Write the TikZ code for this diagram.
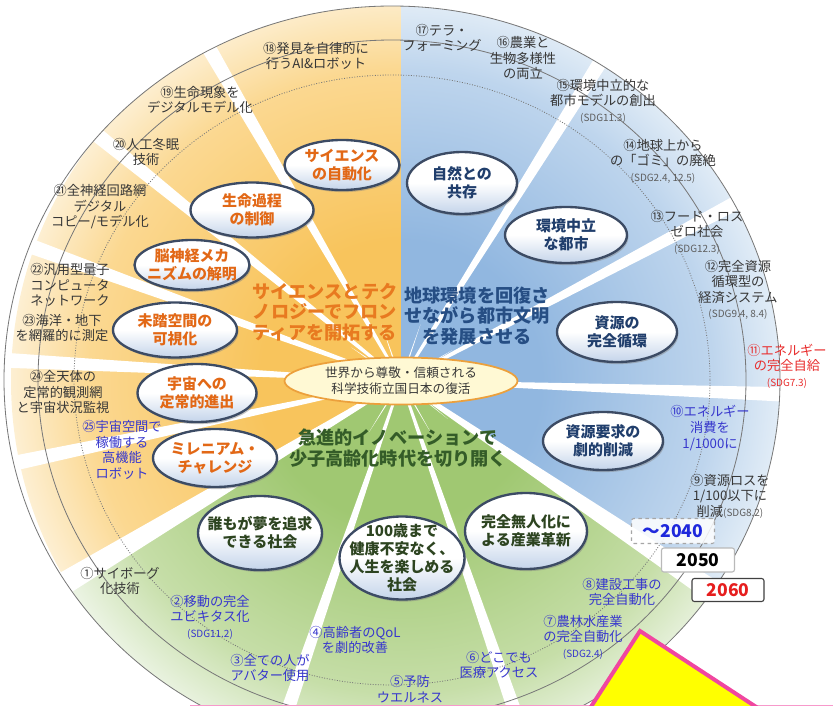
\documentclass[tikz,border=0pt]{standalone}
\usepackage{fontspec}
\setmainfont{Noto Sans CJK JP}
\usetikzlibrary{shapes.geometric,shadows}

\definecolor{o1}{RGB}{248,196,92}
\definecolor{o2}{RGB}{251,216,145}
\definecolor{o3}{RGB}{253,239,210}
\definecolor{b1}{RGB}{145,183,224}
\definecolor{b2}{RGB}{190,213,237}
\definecolor{b3}{RGB}{231,240,248}
\definecolor{g1}{RGB}{160,200,114}
\definecolor{g2}{RGB}{198,222,168}
\definecolor{g3}{RGB}{236,244,228}
\pgfdeclareradialshading{orsh}{\pgfpoint{0bp}{0bp}}{color(0bp)=(o1); color(9bp)=(o1); color(20bp)=(o2); color(25bp)=(o3); color(50bp)=(o3)}
\pgfdeclareradialshading{blsh}{\pgfpoint{0bp}{0bp}}{color(0bp)=(b1); color(9bp)=(b1); color(20bp)=(b2); color(25bp)=(b3); color(50bp)=(b3)}
\pgfdeclareradialshading{grsh}{\pgfpoint{0bp}{0bp}}{color(0bp)=(g1); color(9bp)=(g1); color(20bp)=(g2); color(25bp)=(g3); color(50bp)=(g3)}

\definecolor{ringc}{RGB}{120,120,120}
\definecolor{labc}{RGB}{55,55,55}
\definecolor{sdgc}{RGB}{95,95,95}
\definecolor{labblue}{RGB}{55,55,205}
\definecolor{labred}{RGB}{232,45,45}
\definecolor{ortxt}{RGB}{226,104,22}
\definecolor{bltxt}{RGB}{32,62,108}
\definecolor{grtxt}{RGB}{45,68,32}
\definecolor{orhead}{RGB}{232,122,32}
\definecolor{blhead}{RGB}{38,78,132}
\definecolor{grhead}{RGB}{52,92,40}
\definecolor{bubedge}{RGB}{60,75,100}
\definecolor{bubfill}{RGB}{196,212,234}
\definecolor{ctrfill}{RGB}{255,249,212}
\definecolor{ctredge}{RGB}{236,160,60}
\definecolor{pinkc}{RGB}{240,70,160}
\definecolor{yel}{RGB}{255,255,0}
\definecolor{yrblue}{RGB}{30,40,220}
\definecolor{yrred}{RGB}{230,30,30}

\newcommand\sdgf{\fontsize{8.5}{10}\selectfont}

\tikzset{
  bsz/.style 2 args={minimum width=#1*0.03cm, minimum height=#2*0.03cm},
  bub/.style={ellipse, draw=bubedge, line width=2pt, top color=white, bottom color=bubfill, middle color=white,
    drop shadow={shadow xshift=1.2pt, shadow yshift=-1.8pt, opacity=0.45},
    inner sep=-14pt, align=center, font=\bfseries\fontsize{12.8}{15.5}\selectfont},
  bubO/.style={bub, text=ortxt},
  bubB/.style={bub, text=bltxt},
  bubG/.style={bub, text=grtxt},
  lab/.style={align=center, text=labc, inner sep=0pt, font=\fontsize{11.3}{13.3}\selectfont},
  head/.style={align=center, inner sep=0pt, font=\bfseries\fontsize{15.5}{17.5}\selectfont},
  yb/.style={rectangle, rounded corners=2pt, fill=white, line width=0.9pt, inner sep=0pt, font=\bfseries\fontsize{15}{16}\selectfont},
  ring/.style={draw=ringc, line width=0.7pt},
  spoke/.style={fill=white}
}

\begin{document}
\begin{tikzpicture}[x=0.03cm, y=-0.03cm]
\useasboundingbox (0,0) rectangle (833,706);
\clip (0,0) rectangle (833,706);

% ---- sectors ----
\begin{scope}
  \clip (392,380) ellipse [x radius=388, y radius=374];
  \begin{scope}[shift={(401,381)}]
    \begin{scope}
      \clip (0,0) -- (-90:800) -- (-150:800) -- (-211:800) -- cycle;
      \shade[shading=orsh] (0,0) circle (390);
    \end{scope}
    \begin{scope}
      \clip (0,0) -- (-90:800) -- (-28:800) -- (34:800) -- cycle;
      \shade[shading=blsh] (0,0) circle (390);
    \end{scope}
    \begin{scope}
      \clip (0,0) -- (-211:800) -- (-268.5:800) -- (-326:800) -- cycle;
      \shade[shading=grsh] (0,0) circle (390);
    \end{scope}
    \foreach \a in {120,141,160,177,192,251,289,358,28,58}{
      \fill[spoke, rotate=\a] (-60,0) -- (460,8.5) -- (460,-8.5) -- cycle;
    }
    \foreach \a in {211,326}{
      \fill[spoke, rotate=\a] (-60,0) -- (460,13) -- (460,-13) -- cycle;
    }
  \end{scope}
\end{scope}

% ---- rings ----
\draw[ring] (392,380) ellipse [x radius=388, y radius=374];
\draw[ring] (392,380) ellipse [x radius=354, y radius=340];
\draw[ring, dash pattern=on 0.8pt off 1.4pt] (392,380) ellipse [x radius=318, y radius=305];

% ---- headers ----
\node[head, text=orhead] (hO) at (325,312) {サイエンスとテク\\ノロジーでフロン\\ティアを開拓する};
\node[head, text=blhead] (hB) at (477,316) {地球環境を回復さ\\せながら都市文明\\を発展させる};
\node[head, text=grhead] (hG) at (398,448) {急進的イノベーションで\\少子高齢化時代を切り開く};

% ---- center ----
\node[ellipse, draw=ctredge, line width=1.5pt, fill=ctrfill, bsz={233}{47}, inner sep=-10pt, align=center,
      text=labc, font=\fontsize{10.8}{13.5}\selectfont] (ctr) at (401,381) {世界から尊敬・信頼される\\科学技術立国日本の復活};

% ---- bubbles ----
\node[bubO, bsz={115}{50}] (s1) at (342,165) {サイエンス\\の自動化};
\node[bubO, bsz={123}{55}] (s2) at (252,210) {生命過程\\の制御};
\node[bubO, bsz={115}{50}] (s3) at (192,265) {脳神経メカ\\ニズムの解明};
\node[bubO, bsz={124}{55}] (s4) at (175,330) {未踏空間の\\可視化};
\node[bubO, bsz={119}{58}] (s5) at (197,393) {宇宙への\\定常的進出};
\node[bubO, bsz={124}{58}] (s6) at (215,458) {ミレニアム・\\チャレンジ};

\node[bubB, bsz={110}{62}] (e1) at (462,183) {自然との\\共存};
\node[bubB, bsz={122}{56}] (e2) at (566,235) {環境中立\\な都市};
\node[bubB, bsz={120}{60}] (e3) at (617,332) {資源の\\完全循環};
\node[bubB, bsz={120}{58}] (e4) at (603,441) {資源要求の\\劇的削減};

\node[bubG, bsz={124}{74}] (gA) at (260,533) {誰もが夢を追求\\できる社会};
\node[bubG, bsz={125}{83}] (gB) at (402,558) {100歳まで\\健康不安なく、\\人生を楽しめる\\社会};
\node[bubG, bsz={122}{76}] (gC) at (526,531) {完全無人化に\\よる産業革新};

% ---- labels ----
\node[lab] (n18) at (316,56) {⑱発見を自律的に\\行うAI\&ロボット};
\node[lab] (n17) at (442,38) {⑰テラ・\\フォーミング};
\node[lab] (n16) at (523,58) {⑯農業と\\生物多様性\\の両立};
\node[lab] (n15) at (603,101) {⑮環境中立的な\\都市モデルの創出\\{\sdgf\color{sdgc}(SDG11.3)}};
\node[lab] (n14) at (663,161) {⑭地球上から\\の「ゴミ」の廃絶\\{\sdgf\color{sdgc}(SDG2.4, 12.5)}};
\node[lab] (n13) at (697,232) {⑬フード・ロス\\ゼロ社会\\{\sdgf\color{sdgc}(SDG12.3)}};
\node[lab] (n12) at (738,290) {⑫完全資源\\循環型の\\経済システム\\{\sdgf\color{sdgc}(SDG9.4, 8.4)}};
\node[lab, text=labred] (n11) at (787,366) {⑪エネルギー\\の完全自給\\{\sdgf (SDG7.3)}};
\node[lab, text=labblue] (n10) at (710,428) {⑩エネルギー\\消費を\\1/1000に};
\node[lab] (n9) at (730,496) {⑨資源ロスを\\1/100以下に\\削減{\sdgf\color{sdgc}(SDG8.2)}};
\node[lab, text=labblue] (n8) at (622,592) {⑧建設工事の\\完全自動化};
\node[lab, text=labblue] (n7) at (583,637) {⑦農林水産業\\の完全自動化\\{\sdgf (SDG2.4)}};
\node[lab, text=labblue] (n6) at (499,665) {⑥どこでも\\医療アクセス};
\node[lab, text=labblue] (n5) at (410,689) {⑤予防\\ウエルネス};
\node[lab, text=labblue] (n4) at (355,640) {④高齢者のQoL\\を劇的改善};
\node[lab, text=labblue] (n3) at (270,668) {③全ての人が\\アバター使用};
\node[lab, text=labblue] (n2) at (210,617) {②移動の完全\\ユビキタス化\\{\sdgf (SDG11.2)}};
\node[lab] (n1) at (120,581) {①サイボーグ\\化技術};
\node[lab, text=labblue] (n25) at (122,450) {㉕宇宙空間で\\稼働する\\高機能\\ロボット};
\node[lab] (n24) at (63,392) {㉔全天体の\\定常的観測網\\と宇宙状況監視};
\node[lab] (n23) at (62,328) {㉓海洋・地下\\を網羅的に測定};
\node[lab] (n22) at (70,285) {㉒汎用型量子\\コンピュータ\\ネットワーク};
\node[lab] (n21) at (100,207) {㉑全神経回路網\\デジタル\\コピー/モデル化};
\node[lab] (n20) at (146,152) {⑳人工冬眠\\技術};
\node[lab] (n19) at (200,100) {⑲生命現象を\\デジタルモデル化};

% ---- year boxes ----
\node[yb, draw=gray!70, dashed, fill opacity=0.85, text opacity=1, text=yrblue, bsz={83}{25}] (y40) at (673,531) {～2040};
\node[yb, draw=gray!55, text=black, bsz={73}{24}] (y50) at (698,560) {2050};
\node[yb, draw=black!75, text=yrred, bsz={72}{23}] (y60) at (728,590) {2060};

% ---- overlay ----
\draw[pinkc!55, line width=1pt] (190,705.5) -- (833,705.5);
\draw[pinkc, line width=3.4pt, fill=yel, line join=miter] (640,631) -- (585,716) -- (770,716) -- cycle;
\end{tikzpicture}
\end{document}
